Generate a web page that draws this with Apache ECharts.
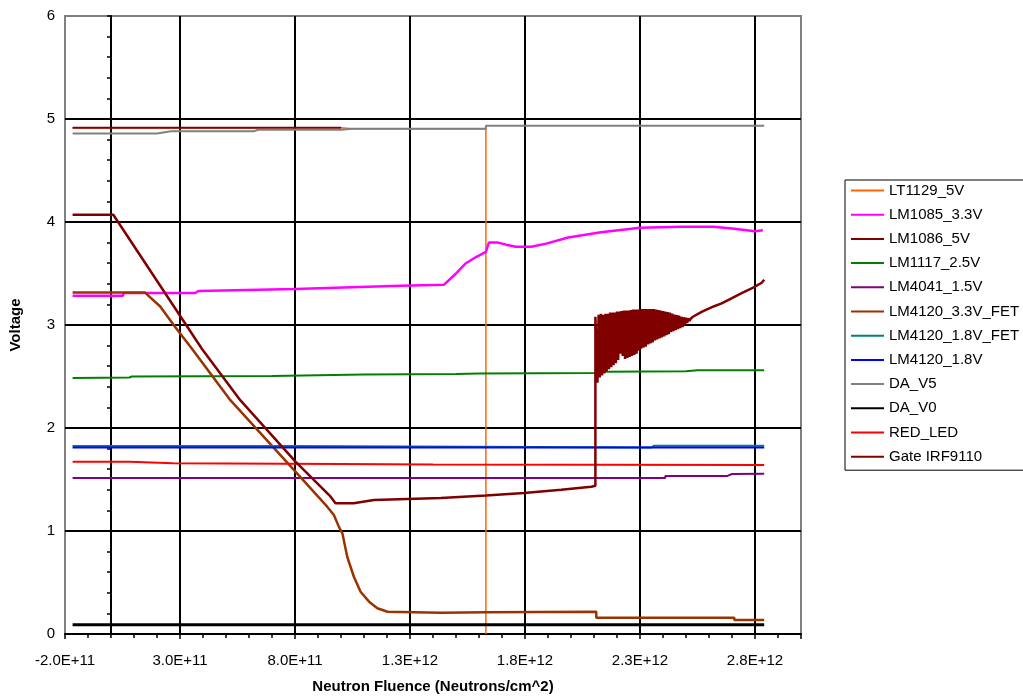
<!DOCTYPE html>
<html>
<head>
<meta charset="utf-8">
<script src="https://cdn.jsdelivr.net/npm/echarts@6/dist/echarts.min.js"></script>
<style>
  html, body { margin: 0; padding: 0; background: #fff; }
  #chart { width: 1023px; height: 696px; }
</style>
</head>
<body>
<div id="chart"></div>
<script>
// ---- Data (x: neutron fluence in neutrons/cm^2, y: volts) ----
var seriesNames = ['LT1129_5V', 'LM1085_3.3V', 'LM1086_5V', 'LM1117_2.5V', 'LM4041_1.5V',
  'LM4120_3.3V_FET', 'LM4120_1.8V_FET', 'LM4120_1.8V', 'DA_V5', 'DA_V0', 'RED_LED', 'Gate IRF9110'];

var lt1129 = [[-1.67e11, 4.915], [1.0e12, 4.915], [1.05e12, 4.905], [1.63e12, 4.905], [1.63e12, 0.0]];

var lm1085 = [[-1.67e11, 3.285], [0.52e11, 3.285], [0.55e11, 3.31], [3.66e11, 3.31], [3.8e11, 3.33],
  [8.0e11, 3.35], [1.26e12, 3.38], [1.447e12, 3.39], [1.50e12, 3.50], [1.543e12, 3.60],
  [1.587e12, 3.66], [1.63e12, 3.71], [1.643e12, 3.80], [1.683e12, 3.80], [1.718e12, 3.78],
  [1.76e12, 3.76], [1.827e12, 3.76], [1.892e12, 3.79], [1.988e12, 3.85], [2.13e12, 3.90],
  [2.30e12, 3.945], [2.48e12, 3.955], [2.62e12, 3.955], [2.71e12, 3.935], [2.80e12, 3.91],
  [2.834e12, 3.92]];

var lm1086 = [[-1.67e11, 4.915], [1.0e12, 4.915]];

var lm1117 = [[-1.67e11, 2.485], [0.8e11, 2.49], [0.9e11, 2.50], [7.0e11, 2.505], [1.1e12, 2.52],
  [1.5e12, 2.525], [1.6e12, 2.53], [2.1e12, 2.535], [2.15e12, 2.545], [2.5e12, 2.55],
  [2.55e12, 2.56], [2.84e12, 2.56]];

var lm4041 = [[-1.67e11, 1.515], [2.41e12, 1.515], [2.41e12, 1.535], [2.68e12, 1.535],
  [2.70e12, 1.553], [2.84e12, 1.555]];

var lm4120fet33 = [[-1.67e11, 3.315], [1.48e11, 3.315], [2.14e11, 3.18], [2.79e11, 2.98],
  [3.52e11, 2.77], [5.19e11, 2.27], [8.02e11, 1.576], [9.40e11, 1.236], [9.69e11, 1.155],
  [9.91e11, 1.04], [1.006e12, 0.977], [1.027e12, 0.75], [1.056e12, 0.556], [1.085e12, 0.41],
  [1.122e12, 0.314], [1.158e12, 0.25], [1.202e12, 0.216], [1.434e12, 0.207], [1.63e12, 0.21],
  [1.63e12, 0.218], [2.11e12, 0.216], [2.11e12, 0.158], [2.71e12, 0.158], [2.71e12, 0.136],
  [2.84e12, 0.136]];

var lm4120fet18 = [[-1.67e11, 1.826], [8.0e11, 1.826], [8.0e11, 1.81], [2.35e12, 1.81],
  [2.36e12, 1.828], [2.84e12, 1.828]];

var lm4120v18 = [[-1.67e11, 1.81], [2.84e12, 1.81]];

var daV5 = [[-1.67e11, 4.86], [2.0e11, 4.86], [2.6e11, 4.88], [6.2e11, 4.88], [6.4e11, 4.895],
  [1.0e12, 4.895], [1.05e12, 4.905], [1.63e12, 4.905], [1.63e12, 4.935], [2.84e12, 4.935]];

var daV0 = [[-1.67e11, 0.09], [2.84e12, 0.09]];

var redLed = [[-1.67e11, 1.673], [0.83e11, 1.673], [0.83e11, 1.657], [2.7e11, 1.657],
  [2.7e11, 1.65], [1.0e12, 1.65], [1.4e12, 1.645], [2.84e12, 1.64]];

var gateIrf9110 = [[-1.67e11, 4.07], [0.1e11, 4.07], [3.95e11, 2.77], [5.62e11, 2.27],
  [8.02e11, 1.673], [9.55e11, 1.333], [9.76e11, 1.27], [1.055e12, 1.27], [1.143e12, 1.30],
  [1.434e12, 1.32], [1.63e12, 1.345], [1.796e12, 1.37], [1.957e12, 1.40], [2.088e12, 1.43],
  [2.106e12, 1.44], [2.106e12, 3.08],
  [2.110e12, 3.08], [2.115e12, 2.44], [2.120e12, 3.10], [2.125e12, 2.49], [2.130e12, 3.11],
  [2.135e12, 2.51], [2.140e12, 3.10], [2.145e12, 2.53], [2.150e12, 3.11], [2.155e12, 2.55],
  [2.160e12, 3.11], [2.165e12, 2.57], [2.170e12, 3.12], [2.175e12, 2.59], [2.180e12, 3.12],
  [2.185e12, 2.61], [2.190e12, 3.12], [2.195e12, 2.63], [2.200e12, 3.13], [2.205e12, 2.66],
  [2.210e12, 3.13], [2.215e12, 2.72], [2.220e12, 3.135], [2.225e12, 2.70], [2.230e12, 3.14],
  [2.235e12, 2.67], [2.240e12, 3.14], [2.245e12, 2.68], [2.250e12, 3.14], [2.255e12, 2.69],
  [2.260e12, 3.145], [2.265e12, 2.70], [2.270e12, 3.15], [2.275e12, 2.71], [2.280e12, 3.15],
  [2.285e12, 2.72], [2.290e12, 3.15], [2.295e12, 2.75], [2.300e12, 3.155], [2.305e12, 2.77],
  [2.310e12, 3.155], [2.315e12, 2.78], [2.320e12, 3.155], [2.325e12, 2.79], [2.330e12, 3.155],
  [2.335e12, 2.81], [2.340e12, 3.155], [2.345e12, 2.82], [2.350e12, 3.155], [2.355e12, 2.83],
  [2.360e12, 3.155], [2.365e12, 2.85], [2.370e12, 3.15], [2.375e12, 2.86], [2.380e12, 3.145],
  [2.385e12, 2.87], [2.390e12, 3.14], [2.395e12, 2.88], [2.400e12, 3.135], [2.405e12, 2.89],
  [2.410e12, 3.13], [2.415e12, 2.90], [2.420e12, 3.125], [2.425e12, 2.91], [2.430e12, 3.12],
  [2.435e12, 2.93], [2.440e12, 3.11], [2.445e12, 2.94], [2.450e12, 3.10], [2.455e12, 2.95],
  [2.460e12, 3.095], [2.465e12, 2.96], [2.470e12, 3.09], [2.475e12, 2.97], [2.480e12, 3.08],
  [2.485e12, 2.98], [2.490e12, 3.075], [2.495e12, 3.00], [2.500e12, 3.07], [2.505e12, 3.02],
  [2.510e12, 3.065], [2.515e12, 3.04], [2.520e12, 3.06], [2.525e12, 3.06],
  [2.53e12, 3.08], [2.57e12, 3.13], [2.62e12, 3.18], [2.655e12, 3.21], [2.70e12, 3.26],
  [2.742e12, 3.31], [2.79e12, 3.36], [2.829e12, 3.41], [2.84e12, 3.44]];

var seriesData = [lt1129, lm1085, lm1086, lm1117, lm4041, lm4120fet33, lm4120fet18,
  lm4120v18, daV5, daV0, redLed, gateIrf9110];
var seriesColors = ['#FF6600', '#FF00FF', '#800000', '#008000', '#800080', '#993300',
  '#008080', '#0000FF', '#808080', '#000000', '#FF0000', '#800000'];
var seriesWidths = [1.5, 2.5, 2, 2, 2, 2.5, 2, 2, 2, 3, 2, 2.5];

var xMin = -2e11, xMax = 3e12, xStep = 5e11;
var yMin = 0, yMax = 6, yStep = 1;

var chart = echarts.init(document.getElementById('chart'), null, { renderer: 'canvas' });
var FONT = '"Liberation Sans", Arial, sans-serif';

var series = seriesNames.map(function (n, i) {
  return {
    name: n,
    type: 'line',
    data: seriesData[i],
    symbol: 'none',
    showSymbol: false,
    animation: false,
    color: seriesColors[i],
    lineStyle: { color: seriesColors[i], width: seriesWidths[i] },
    xAxisIndex: 0,
    yAxisIndex: 0
  };
});

chart.setOption({
  animation: false,
  backgroundColor: '#fff',
  textStyle: { fontFamily: FONT },
  grid: {
    left: 65, top: 16, right: 222, bottom: 62,
    outerBoundsMode: 'none', containLabel: false,
    show: true, borderColor: '#808080', borderWidth: 2, backgroundColor: 'transparent'
  },
  legend: {
    orient: 'vertical',
    left: 845, top: 180,
    data: seriesNames,
    itemWidth: 33, itemHeight: 15, itemGap: 9.2,
    padding: [3, 5, 6, 5],
    borderColor: '#000', borderWidth: 1,
    itemStyle: { opacity: 0 },
    lineStyle: { width: 2 },
    textStyle: { fontSize: 15, color: '#000', fontFamily: FONT },
    selectedMode: false
  },
  xAxis: {
    type: 'value',
    min: xMin, max: xMax, interval: xStep,
    name: 'Neutron Fluence (Neutrons/cm^2)',
    nameLocation: 'middle', nameGap: 45,
    nameTextStyle: { fontSize: 15, fontWeight: 'bold', color: '#000', fontFamily: FONT },
    axisLine: { show: true, onZero: false, lineStyle: { color: '#000', width: 2 } },
    axisTick: { show: true, length: 5, lineStyle: { color: '#000', width: 1.5 } },
    minorTick: { show: true, splitNumber: 5, length: 4, lineStyle: { color: '#000', width: 1.5 } },
    axisLabel: {
      fontSize: 15, color: '#000', margin: 19, fontFamily: FONT,
      showMaxLabel: false,
      formatter: function (v) { return v.toExponential(1).toUpperCase(); }
    },
    splitLine: { show: true, showMinLine: false, showMaxLine: false, lineStyle: { color: '#000', width: 2 } }
  },
  yAxis: [{
    type: 'value',
    min: yMin, max: yMax, interval: yStep,
    position: 'left',
    axisLine: { show: true, onZero: true, lineStyle: { color: '#000', width: 2 } },
    axisTick: { show: true, length: 4, lineStyle: { color: '#000', width: 1.5 } },
    minorTick: { show: true, splitNumber: 5, length: 4, lineStyle: { color: '#000', width: 1.5 } },
    axisLabel: { show: false },
    splitLine: { show: true, showMinLine: false, showMaxLine: false, lineStyle: { color: '#000', width: 2 } }
  }, {
    type: 'value',
    min: yMin, max: yMax, interval: yStep,
    position: 'left',
    name: 'Voltage',
    nameLocation: 'middle', nameGap: 42, nameRotate: 90,
    nameTextStyle: { fontSize: 15, fontWeight: 'bold', color: '#000', fontFamily: FONT },
    axisLine: { show: false, onZero: false },
    axisTick: { show: false },
    axisLabel: { show: true, fontSize: 15, color: '#000', margin: 10, fontFamily: FONT },
    splitLine: { show: false }
  }],
  series: series
});
</script>
</body>
</html>
